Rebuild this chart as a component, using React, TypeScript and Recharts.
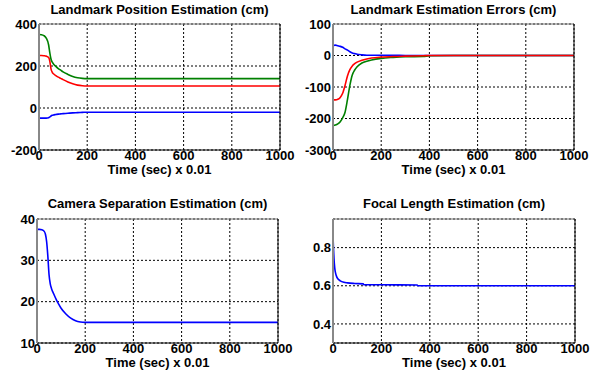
import { CartesianGrid, Label, Line, LineChart, XAxis, YAxis } from "recharts";

// time axis is in units of 0.01 s
const xTicks = [0, 200, 400, 600, 800, 1000];

// Landmark Position Estimation (cm)
const posTime = [0, 10, 20, 30, 40, 45, 50, 55, 60, 70, 80, 90, 100, 120, 140, 160, 180, 200, 300, 400, 500, 600, 700, 800, 900, 1000];
const posGreen = [350, 349, 345, 333, 300, 262, 232, 218, 210, 198, 188, 180, 172, 160, 150, 144, 141, 140, 140, 140, 140, 140, 140, 140, 140, 140];
const posRed = [250, 250, 249, 247, 240, 222, 185, 170, 163, 154, 147, 141, 135, 124, 115, 109, 106, 105, 105, 105, 105, 105, 105, 105, 105, 105];
const posBlue = [-48, -48, -48, -48, -46, -42, -38, -35, -33, -31, -29, -28, -27, -25, -23, -22, -21, -20, -20, -20, -20, -20, -20, -20, -20, -20];
const posTicks = [-200, 0, 200, 400];

// Landmark Estimation Errors (cm)
const errTime = [0, 10, 20, 30, 40, 50, 60, 70, 80, 90, 100, 120, 140, 160, 200, 250, 300, 375, 400, 500, 600, 700, 800, 900, 1000];
const errBlue = [32, 33, 31, 29, 26, 21, 17, 12, 8, 6, 4, 2, 1, 1, 1, 1, 0, 0, 0, 0, 0, 0, 0, 0, 0];
const errGreen = [-223, -221, -217, -210, -198, -180, -140, -95, -62, -46, -36, -24, -18, -14, -9, -6, -4, -3, -1, 0, 0, 0, 0, 0, 0];
const errRed = [-141, -141, -139, -133, -120, -95, -65, -45, -33, -26, -21, -15, -11, -8, -5, -3, -2, -1, 0, 0, 0, 0, 0, 0, 0];
const errTicks = [-300, -200, -100, 0, 100];

// Camera Separation Estimation (cm)
const camTime = [0, 10, 20, 30, 35, 40, 45, 50, 55, 60, 70, 80, 90, 100, 120, 140, 160, 180, 200, 300, 400, 500, 600, 700, 800, 900, 1000];
const camSep = [37.5, 37.5, 37.4, 37, 36.3, 34.5, 31, 26.5, 24.3, 23.2, 21.8, 20.5, 19.4, 18.4, 17, 16, 15.4, 15.1, 15, 15, 15, 15, 15, 15, 15, 15, 15];
const camTicks = [10, 20, 30, 40];

// Focal Length Estimation (cm)
const focTime = [0, 2, 4, 7, 10, 15, 20, 30, 45, 60, 90, 125, 127, 200, 348, 350, 500, 700, 1000];
const focLen = [0.86, 0.8, 0.745, 0.695, 0.67, 0.648, 0.637, 0.626, 0.618, 0.615, 0.612, 0.61, 0.606, 0.605, 0.604, 0.601, 0.6, 0.6, 0.6];
const focTicks = [0.4, 0.6, 0.8];

type Series = { key: string; values: number[]; color: string };

const FONT = "'Liberation Sans', Arial, Helvetica, sans-serif";
const tickStyle = { fill: "#000", fontSize: 13, fontWeight: 700, fontFamily: FONT };

function rows(time: number[], series: Series[]) {
  return time.map((t, i) => {
    const r: Record<string, number> = { t };
    series.forEach((s) => (r[s.key] = s.values[i]));
    return r;
  });
}

type PanelProps = {
  left: number;
  top: number;
  height: number;
  leftW: number;
  rightW: number;
  topH: number;
  bottomH: number;
  title: string;
  titleOffset: number;
  labelOffset: number;
  time: number[];
  series: Series[];
  yDomain: [number, number];
  yTicks: number[];
};

function Panel(p: PanelProps) {
  const width = 302;
  const data = rows(p.time, p.series);
  return (
    <div style={{ position: "absolute", left: p.left, top: p.top }}>
      <LineChart width={width} height={p.height} data={data} margin={{ top: 0, right: 0, bottom: 0, left: 0 }}>
        <CartesianGrid stroke="#000" strokeDasharray="2 2" />
        <XAxis
          dataKey="t"
          type="number"
          domain={[0, 1000]}
          ticks={xTicks}
          interval={0}
          height={p.bottomH}
          tickSize={0}
          tickMargin={1}
          tick={tickStyle}
          axisLine={{ stroke: "#000" }}
        >
          <Label
            value="Time (sec) x 0.01"
            position="insideBottom"
            offset={p.labelOffset}
            fill="#000"
            fontSize={13}
            fontWeight={700}
            fontFamily={FONT}
          />
        </XAxis>
        <XAxis
          xAxisId="top"
          orientation="top"
          type="number"
          domain={[0, 1000]}
          height={p.topH}
          tick={false}
          tickLine={false}
          axisLine={{ stroke: "#777" }}
        >
          <Label
            value={p.title}
            position="insideTop"
            offset={p.titleOffset}
            fill="#000"
            fontSize={13}
            fontWeight={700}
            fontFamily={FONT}
          />
        </XAxis>
        <YAxis
          type="number"
          domain={p.yDomain}
          ticks={p.yTicks}
          interval={0}
          width={p.leftW}
          tickSize={0}
          tickMargin={2}
          tick={tickStyle}
          axisLine={{ stroke: "#888", strokeWidth: 2 }}
        />
        <YAxis
          yAxisId="right"
          orientation="right"
          type="number"
          domain={p.yDomain}
          width={p.rightW}
          tick={false}
          tickLine={false}
          axisLine={{ stroke: "#000" }}
        />
        {p.series.map((s) => (
          <Line
            key={s.key}
            dataKey={s.key}
            type="monotone"
            stroke={s.color}
            strokeWidth={1.6}
            dot={false}
            isAnimationActive={false}
          />
        ))}
      </LineChart>
    </div>
  );
}

export default function App() {
  return (
    <div style={{ position: "absolute", left: 0, top: 0, width: 604, height: 374, background: "#fff" }}>
      <Panel
        left={0}
        top={0}
        height={185}
        leftW={39}
        rightW={22}
        topH={24}
        bottomH={35}
        title="Landmark Position Estimation (cm)"
        titleOffset={5}
        labelOffset={11}
        time={posTime}
        series={[
          { key: "blue", values: posBlue, color: "#0000ff" },
          { key: "red", values: posRed, color: "#ff0000" },
          { key: "green", values: posGreen, color: "#008000" },
        ]}
        yDomain={[-200, 400]}
        yTicks={posTicks}
      />
      <Panel
        left={302}
        top={0}
        height={185}
        leftW={31}
        rightW={30}
        topH={24}
        bottomH={35}
        title="Landmark Estimation Errors (cm)"
        titleOffset={5}
        labelOffset={11}
        time={errTime}
        series={[
          { key: "blue", values: errBlue, color: "#0000ff" },
          { key: "green", values: errGreen, color: "#008000" },
          { key: "red", values: errRed, color: "#ff0000" },
        ]}
        yDomain={[-300, 100]}
        yTicks={errTicks}
      />
      <Panel
        left={0}
        top={185}
        height={189}
        leftW={37}
        rightW={24}
        topH={34}
        bottomH={31}
        title="Camera Separation Estimation (cm)"
        titleOffset={14}
        labelOffset={7}
        time={camTime}
        series={[{ key: "sep", values: camSep, color: "#0000ff" }]}
        yDomain={[10, 40]}
        yTicks={camTicks}
      />
      <Panel
        left={302}
        top={185}
        height={189}
        leftW={31}
        rightW={29}
        topH={34}
        bottomH={31}
        title="Focal Length Estimation (cm)"
        titleOffset={14}
        labelOffset={7}
        time={focTime}
        series={[{ key: "focal", values: focLen, color: "#0000ff" }]}
        yDomain={[0.3, 0.95]}
        yTicks={focTicks}
      />
    </div>
  );
}
